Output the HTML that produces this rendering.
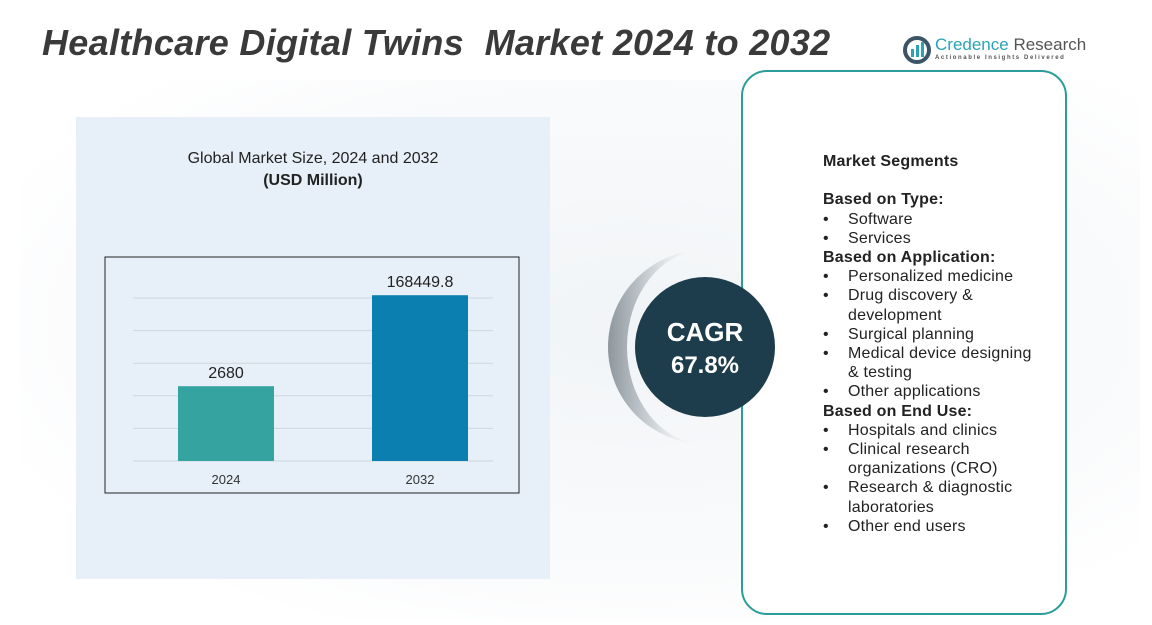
<!DOCTYPE html>
<html><head><meta charset="utf-8"><style>
body{margin:0;width:1152px;height:625px;background:#fff;font-family:"Liberation Sans",sans-serif;position:relative;overflow:hidden}
.abs{position:absolute}
#title{left:42px;top:22px;font-size:36px;font-weight:bold;font-style:italic;color:#3a3a3a;white-space:pre;letter-spacing:0.3px}
#seg{left:823px;top:152px;font-size:16px;color:#222;line-height:19.2px;letter-spacing:0.2px}
#seg b{font-weight:bold}
.li{padding-left:25px;position:relative}
.li:before{content:"•";position:absolute;left:0}
</style></head><body>
<div class="abs" style="left:20px;top:80px;width:1120px;height:540px;background:radial-gradient(ellipse at 55% 45%,#f1f4f7 0%,#fafbfc 60%,#fff 80%)"></div>
<div id="title" class="abs">Healthcare Digital Twins  Market 2024 to 2032</div>
<div class="abs" style="left:903px;top:33px;width:180px;height:34px">
<svg width="30" height="30" style="position:absolute;left:0;top:2px"><circle cx="14" cy="15" r="12" fill="none" stroke="#3b5566" stroke-width="4"/><rect x="8" y="14" width="3" height="8" fill="#2aa3b5"/><rect x="13" y="10" width="3" height="12" fill="#2aa3b5"/><rect x="18" y="7" width="3" height="15" fill="#2aa3b5"/></svg>
<div class="abs" style="left:32px;top:2px;font-size:17px;white-space:nowrap"><span style="color:#2aa3b5">Credence</span> <span style="color:#555">Research</span></div>
<div class="abs" style="left:32px;top:22px;font-size:6px;letter-spacing:1.6px;color:#555;white-space:nowrap;font-weight:bold">Actionable Insights Delivered</div>
</div>
<div class="abs" style="left:76px;top:117px;width:474px;height:462px;background:#e7f0f8"></div>
<div class="abs" style="left:76px;top:148px;width:474px;text-align:center;font-size:16px;color:#222;line-height:22px">Global Market Size, 2024 and 2032<br><b>(USD Million)</b></div>
<svg class="abs" style="left:0;top:0" width="1152" height="625" id="chart"></svg>
<div class="abs" style="left:741px;top:70px;width:322px;height:541px;border:2px solid #2a9d9a;border-radius:26px;background:#fff"></div>
<svg class="abs" style="left:600px;top:245px" width="200" height="200">
<defs><linearGradient id="g" x1="0" x2="1"><stop offset="0" stop-color="#8e979e"/><stop offset="0.5" stop-color="#d5dadd"/><stop offset="1" stop-color="#fff" stop-opacity="0"/></linearGradient></defs>
<path d="M105,5 A97,97 0 0 0 105,199 A78,97 0 0 1 105,5 Z" fill="url(#g)"/>
<circle cx="105" cy="102" r="70" fill="#1e3d4c"/>
<text x="105" y="96" text-anchor="middle" fill="#fff" font-size="26" font-weight="bold" font-family="Liberation Sans">CAGR</text>
<text x="105" y="128" text-anchor="middle" fill="#fff" font-size="24" font-weight="bold" font-family="Liberation Sans">67.8%</text>
</svg>
<div id="seg" class="abs">
<b>Market Segments</b><br><br>
<b>Based on Type:</b>
<div class="li">Software</div><div class="li">Services</div>
<b>Based on Application:</b>
<div class="li">Personalized medicine</div><div class="li">Drug discovery &amp;<br>development</div><div class="li">Surgical planning</div><div class="li">Medical device designing<br>&amp; testing</div><div class="li">Other applications</div>
<b>Based on End Use:</b>
<div class="li">Hospitals and clinics</div><div class="li">Clinical research<br>organizations (CRO)</div><div class="li">Research &amp; diagnostic<br>laboratories</div><div class="li">Other end users</div>
</div>
<script>
const categories=["2024","2032"];
const values=[2680,168449.8];
const labels=["2680","168449.8"];
const colors=["#35a39f","#0a7fb0"];
const svg=document.getElementById('chart');
const NS="http://www.w3.org/2000/svg";
const base=461, xs=226, xe=420;
function y(v){return base-50.6*(Math.log10(v)-1.95);}
function x(i){return categories.length>1?xs+(xe-xs)*i/(categories.length-1):xs;}
function mk(t,a){const e=document.createElementNS(NS,t);for(const k in a)e.setAttribute(k,a[k]);svg.appendChild(e);return e;}
const fr=mk('rect',{x:105,y:257,width:414,height:236,fill:'#e7f0f8',stroke:'#222','stroke-width':1});


for(let k=0;k<6;k++){const g=mk('line',{x1:133,x2:493,y1:base-k*32.6,y2:base-k*32.6,stroke:'#cfd6dc','stroke-width':1});

}
categories.forEach((c,i)=>{
const cx=x(i),bw=96;
const r=mk('rect',{x:cx-bw/2,y:y(values[i]),width:bw,height:base-y(values[i]),fill:colors[i]});


const t=mk('text',{x:cx,y:y(values[i])-8,'text-anchor':'middle','font-size':16,fill:'#222','font-family':'Liberation Sans'});t.textContent=labels[i];


const l=mk('text',{x:cx,y:484,'text-anchor':'middle','font-size':13,fill:'#333','font-family':'Liberation Sans'});l.textContent=c;


});
</script>
</body></html>
